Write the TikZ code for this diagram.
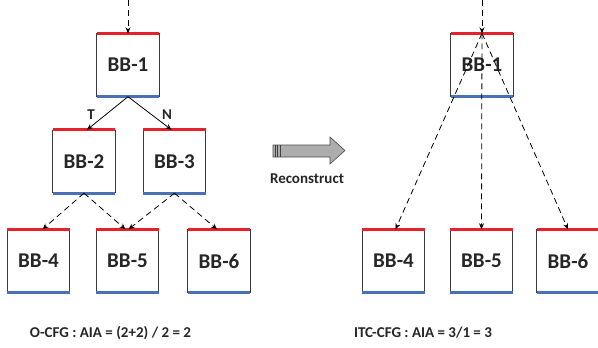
\documentclass[tikz,border=0pt]{standalone}
\usepackage{fontspec}
\setmainfont{Carlito}
\usetikzlibrary{arrows.meta,positioning}

\definecolor{barred}{HTML}{E8202A}
\definecolor{barblue}{HTML}{4A70B8}
\definecolor{sidegray}{HTML}{3A3A3A}

\tikzset{
  bb/.style={minimum width=62pt,minimum height=63pt,inner sep=0pt,font=\fontsize{21}{21}\selectfont\bfseries,text=black!85},
  side/.style={draw=sidegray,line width=0.8pt},
  topbar/.style={draw=barred,line width=3pt},
  botbar/.style={draw=barblue,line width=3pt},
  flow/.style={-{Stealth[length=6pt,width=5pt]},line width=0.8pt},
  jump/.style={flow,dash pattern=on 6pt off 4pt},
  lbl/.style={font=\fontsize{15}{15}\selectfont\bfseries,text=black!85},
}

\begin{document}
\begin{tikzpicture}[x=1pt,y=-1pt]
\useasboundingbox (0,0) rectangle (598,348);

% original cfg
\node[bb] (b1) at (128,65) {BB-1};
\node[bb] (b2) at (84,161.5) {BB-2};
\node[bb] (b3) at (174.5,161.5) {BB-3};
\node[bb] (b4) at (38.5,261) {BB-4};
\node[bb] (b5) at (127.5,261) {BB-5};
\node[bb] (b6) at (219,261) {BB-6};

% reconstructed cfg
\node[bb] (r1) at (482,65) {BB-1};
\node[bb] (r4) at (393.5,261) {BB-4};
\node[bb] (r5) at (481.5,261) {BB-5};
\node[bb] (r6) at (568,261) {BB-6};

% box sides and bars
\foreach \n in {b1,b2,b3,b4,b5,b6,r1,r4,r5,r6}{
  \draw[side] (\n.north west) -- (\n.south west);
  \draw[side] (\n.north east) -- (\n.south east);
  \draw[topbar] (\n.north west) -- (\n.north east);
  \draw[botbar] (\n.south west) -- (\n.south east);
}

\coordinate (inL) at (128,0);
\coordinate (inR) at (482,0);

\draw[jump] (inL) -- (b1.north);
\draw[flow] (b1.south) -- ([xshift=3pt]b2.north);
\draw[flow] (b1.south) -- ([xshift=-3pt]b3.north);
\node[lbl] (t) at (91,115) {T};
\node[lbl] (nt) at (167,115) {N};
\draw[jump] (b2.south) -- ([xshift=4pt]b4.north);
\draw[jump] (b2.south) -- ([xshift=-2pt]b5.north);
\draw[jump] (b3.south) -- ([xshift=1pt]b5.north);
\draw[jump] (b3.south) -- ([xshift=-2pt]b6.north);

\draw[jump] (inR) -- (r1.north);
\draw[jump] (r1.north) -- ([xshift=2pt]r4.north);
\draw[jump] (r1.north) -- (r5.north);
\draw[jump] (r1.north) -- (r6.north);

% block arrow
\draw[draw=black!70,fill=black!32,line width=0.6pt]
  (273,145) -- (330,145) -- (330,137) -- (345,150.5) -- (330,164) -- (330,157) -- (273,157) -- cycle;
\foreach \x in {275,277.5,280}
  \draw[black!75,line width=0.8pt] (\x,145) -- (\x,157);
\node[lbl] (rec) at (307,179) {Reconstruct};

\node[lbl] (ocfg) at (110.5,333) {O-CFG : AIA = (2+2) / 2 = 2};
\node[lbl] (icfg) at (423,333) {ITC-CFG : AIA = 3/1 = 3};
\end{tikzpicture}
\end{document}
